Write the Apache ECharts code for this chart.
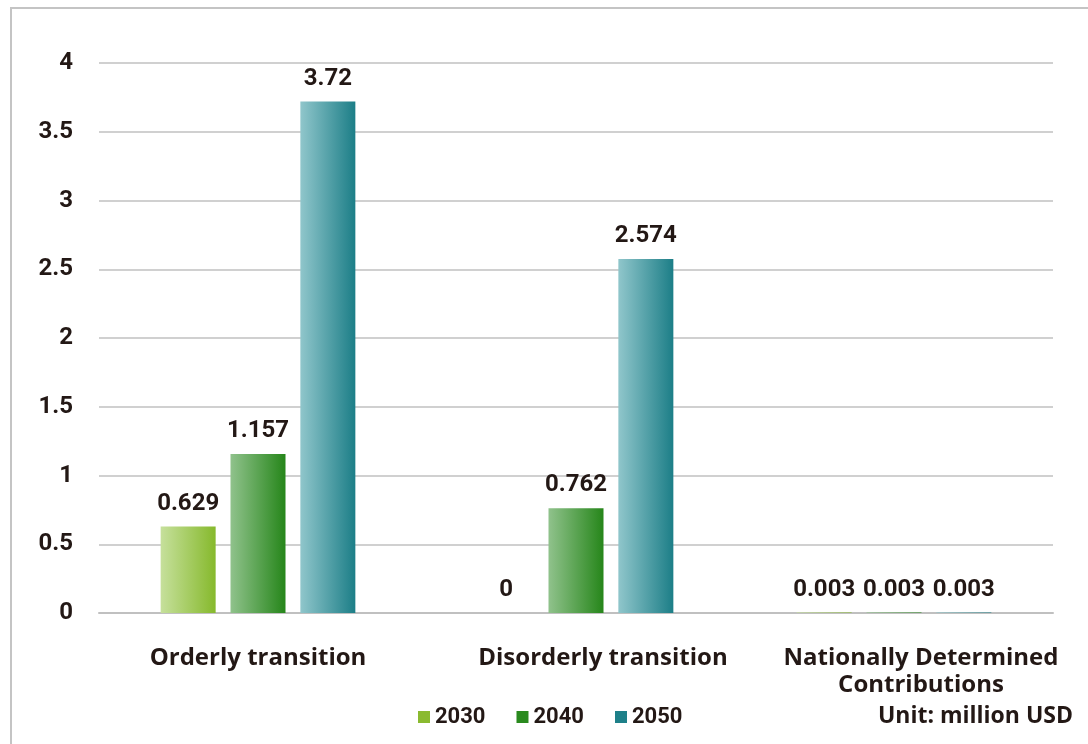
<!DOCTYPE html>
<html>
<head>
<meta charset="utf-8">
<script src="https://cdn.jsdelivr.net/npm/echarts@6/dist/echarts.min.js"></script>
<style>
html,body{margin:0;padding:0;background:#fff;}
#chart{width:1088px;height:744px;}
</style>
</head>
<body>
<div id="chart"></div>
<script>
// Scenarios and yearly values (million USD)
const categories = ['Orderly transition', 'Disorderly transition', 'Nationally Determined\nContributions'];
const years = ['2030', '2040', '2050'];
const values2030 = [0.629, 0, 0.003];
const values2040 = [1.157, 0.762, 0.003];
const values2050 = [3.72, 2.574, 0.003];
const yTicks = [0, 0.5, 1, 1.5, 2, 2.5, 3, 3.5, 4];

const NUM_FONT = 'Roboto, "Liberation Sans", sans-serif';
const TXT_FONT = '"Open Sans", Roboto, sans-serif';
const TEXT = '#231815';

function grad(a, b) {
  return new echarts.graphic.LinearGradient(0, 0, 1, 0, [
    { offset: 0, color: a },
    { offset: 1, color: b }
  ]);
}

const seriesDefs = [
  { name: years[0], data: values2030, solid: '#8aba30', g: ['#c6e09c', '#86b92c'] },
  { name: years[1], data: values2040, solid: '#2a8a1e', g: ['#90c28c', '#26861a'] },
  { name: years[2], data: values2050, solid: '#1e8089', g: ['#90c6cb', '#1c7e87'] }
];

const catTextStyle = {
  fontFamily: TXT_FONT,
  fontWeight: 'bold',
  fontSize: 24,
  lineHeight: 27,
  color: TEXT
};

const chart = echarts.init(document.getElementById('chart'));
chart.setOption({
  backgroundColor: '#fff',
  animation: false,
  graphic: [{
    type: 'rect',
    shape: { x: 11, y: 8, width: 1200, height: 900 },
    style: { fill: 'none', stroke: '#c4c4c4', lineWidth: 2 },
    z: 100
  }, {
    type: 'text',
    right: 15,
    top: 705,
    style: { text: 'Unit: million USD', font: 'bold 23px ' + TXT_FONT, fill: TEXT }
  }],
  grid: { left: 99, right: 35, top: 63, bottom: 131 },
  legend: {
    left: 418,
    top: 706,
    padding: 0,
    itemWidth: 12,
    itemHeight: 12,
    itemGap: 31,
    icon: 'rect',
    textStyle: { fontFamily: NUM_FONT, fontWeight: 'bold', fontSize: 22, color: TEXT },
    data: seriesDefs.map(s => ({ name: s.name, itemStyle: { color: s.solid } }))
  },
  xAxis: {
    type: 'category',
    data: categories,
    axisLine: { show: true, lineStyle: { color: '#c0c0c0', width: 2 } },
    axisTick: { show: false },
    axisLabel: {
      interval: 0,
      margin: 32,
      ...catTextStyle,
      // the two right-hand category names sit a little right of their group centre
      formatter: (v, i) => v.split('\n').map(line => (i === 0 ? '{a|' : '{b|') + line + '}').join('\n'),
      rich: {
        a: { ...catTextStyle },
        b: { ...catTextStyle, padding: [0, 0, 0, 54] }
      }
    }
  },
  yAxis: {
    type: 'value',
    min: 0,
    max: 4,
    interval: 0.5,
    axisLine: { show: false },
    axisTick: { show: false },
    splitLine: { lineStyle: { color: '#c0c0c0', width: 1.5 } },
    axisLabel: {
      margin: 26,
      fontFamily: NUM_FONT,
      fontWeight: 'bold',
      fontSize: 24,
      color: TEXT,
      formatter: v => yTicks.includes(v) ? String(v) : ''
    }
  },
  series: seriesDefs.map(s => ({
    name: s.name,
    type: 'bar',
    data: s.data,
    barWidth: 55,
    barGap: '27%',
    itemStyle: { color: grad(s.g[0], s.g[1]) },
    label: {
      show: true,
      position: 'top',
      distance: 11,
      fontFamily: NUM_FONT,
      fontWeight: 'bold',
      fontSize: 24,
      color: TEXT,
      formatter: p => String(p.value)
    }
  }))
});
</script>
</body>
</html>
